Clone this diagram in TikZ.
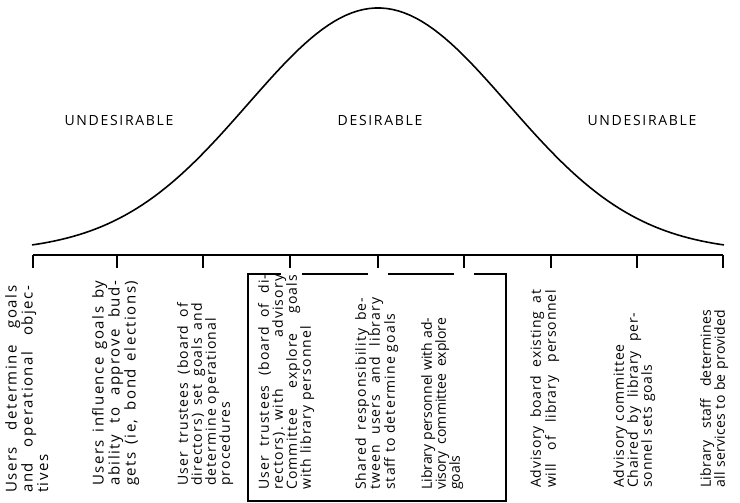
\documentclass[tikz,border=0pt]{standalone}
\usepackage{fontspec}
\setmainfont{Open Sans}
\newfontfamily\colfont{Open Sans}
\newfontfamily\zonefont{Open Sans}[LetterSpace=12]
\newcommand{\jline}[1]{\leavevmode\hbox to \hsize{\spaceskip=0.25em plus 1fil\relax #1}}

\begin{document}
\begin{tikzpicture}[x=1pt, y=-1pt,
    col/.style={rotate=90, anchor=north west, inner sep=0pt, align=left, font=\colfont\fontsize{14}{14}\selectfont\addfontfeatures{LetterSpace=#1}},
    col/.default=0,
    widecol/.style={font=\colfont\fontsize{15}{14}\selectfont\addfontfeatures{LetterSpace=10}},
    zone/.style={font=\zonefont\fontsize{14}{14}\selectfont},
    rule/.style={line width=1.6pt}]
  \useasboundingbox (0,0) rectangle (740,503);

  % bell curve and scale
  \draw[rule, line join=round] plot[domain=32:724, samples=120] (\x, {252-244*exp(-((\x-378)/130)^2/2)});
  \draw[rule] (33,255) -- (723,255);
  \foreach \t in {33,117,203,290,378,464,551,637,723}
    \draw[rule] (\t,255) -- (\t,268);

  \node[zone] (undesleft) at (119,121) {UNDESIRABLE};
  \node[zone] (des) at (380,121) {DESIRABLE};
  \node[zone] (undesright) at (642,121) {UNDESIRABLE};

  % the nine positions
  \node[col, widecol, text width=207pt] (users) at (5,493) {\jline{Users determine goals}\\\jline{and operational objec-}\\tives};
  \node[col, widecol, text width=205pt] (budgets) at (92,486) {\jline{Users influence goals by}\\\jline{ability to approve bud-}\\\jline{gets (ie, bond elections)}};
  \node[col=8, text width=183pt] (trustees) at (177,486) {\jline{User trustees (board of}\\\jline{directors) set goals and}\\determine operational\\procedures};
  \node[col=8, text width=215pt] (advisory) at (258,490) {\jline{User trustees (board of di-}\\\jline{rectors). with advisory}\\\jline{Committee explore goals}\\with library personnel};
  \node[col=8, text width=192pt] (shared) at (355,490) {\jline{Shared responsibility be-}\\\jline{tween users and library}\\staff to determine goals};
  \node[col, text width=172pt] (personnel) at (421,490) {\jline{Library personnel with ad-}\\\jline{visory committee explore}\\goals};
  \node[col=6, text width=198pt] (board) at (530,488) {\jline{Advisory board existing at}\\\jline{will of library personnel}};
  \node[col=6, text width=175pt] (chaired) at (613,488) {Advisory committee\\\jline{Chaired by library per-}\\sonnel sets goals};
  \node[col=2, text width=178pt] (staff) at (700,488) {\jline{Library staff determines}\\\jline{all services to be provided}};

  % box round the desirable ones
  \draw[line width=1.1pt] (281,274) -| (248,501) -| (506,274) -- (474,274);
  \draw[line width=1.1pt] (302,274) -- (368,274);
  \draw[line width=1.1pt] (388,274) -- (454,274);
\end{tikzpicture}
\end{document}
